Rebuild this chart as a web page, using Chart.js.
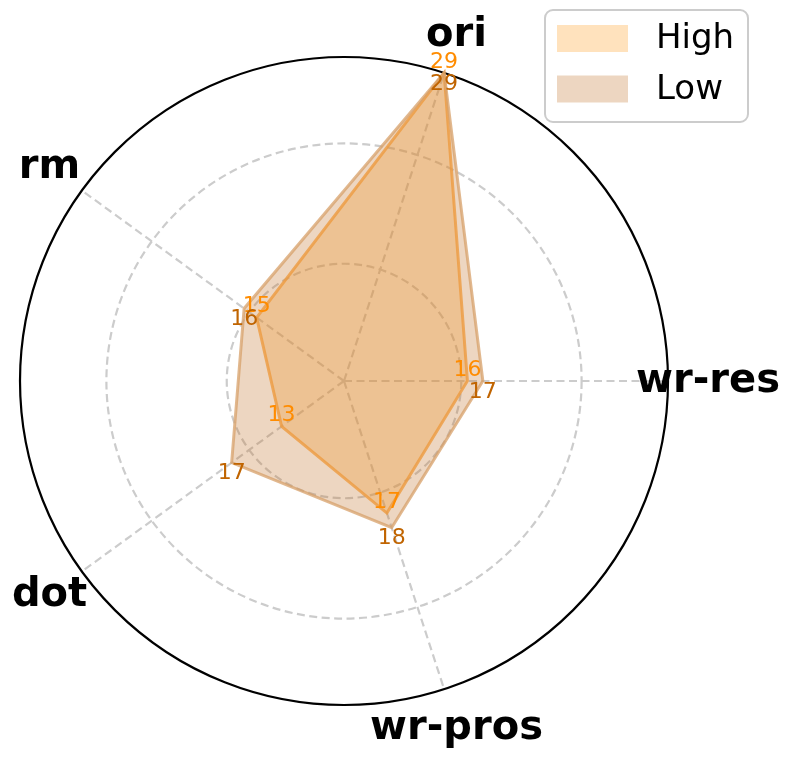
<!DOCTYPE html>
<html><head><meta charset="utf-8">
<script src="https://cdn.jsdelivr.net/npm/chart.js@4/dist/chart.umd.min.js"></script>
<style>html,body{margin:0;padding:0;background:#fff;}</style>
</head><body>
<canvas id="c" width="792" height="760" style="display:block;width:792px;height:760px"></canvas>
<script>
const categories = ['ori', 'wr-res', 'wr-pros', 'dot', 'rm'];
const seriesNames = ['High', 'Low'];
const highValues = [29, 16, 17, 13, 15];
const lowValues = [29, 17, 18, 17, 16];
const gridValues = [8, 15.6, 23.4, 29];
const scaleMin = 8;
const scaleMax = 29;

const fills = ['rgba(255,165,50,0.32)', 'rgba(195,120,50,0.30)'];
const edges = ['rgba(255,170,70,0.8)', 'rgba(215,160,105,0.75)'];
const textColors = ['#ff8c00', '#c06400'];

const overlay = {
  id: 'overlay',
  afterDatasetsDraw(chart) {
    const ctx = chart.ctx;
    const r = chart.scales.r;
    ctx.save();
    ctx.font = 'bold 40px "DejaVu Sans"';
    ctx.fillStyle = '#000';
    ctx.textAlign = 'center';
    ctx.textBaseline = 'middle';
    categories.forEach((c, i) => {
      const p = r.getPointPosition(i, r.drawingArea + 40);
      ctx.fillText(c, p.x, p.y + 1);
    });
    ctx.font = '22px "DejaVu Sans"';
    chart.data.datasets.forEach((ds, di) => {
      ctx.fillStyle = textColors[di];
      ds.data.forEach((v, i) => {
        const p = r.getPointPosition(i, r.getDistanceFromCenterForValue(v));
        ctx.fillText(String(v), p.x, p.y + (di === 0 ? -11 : 11));
      });
    });
    const bx = 545, by = 10, bw = 203, bh = 112, rad = 8;
    ctx.beginPath();
    ctx.moveTo(bx + rad, by);
    ctx.arcTo(bx + bw, by, bx + bw, by + bh, rad);
    ctx.arcTo(bx + bw, by + bh, bx, by + bh, rad);
    ctx.arcTo(bx, by + bh, bx, by, rad);
    ctx.arcTo(bx, by, bx + bw, by, rad);
    ctx.closePath();
    ctx.fillStyle = 'rgba(255,255,255,0.85)';
    ctx.fill();
    ctx.strokeStyle = '#cccccc';
    ctx.lineWidth = 2;
    ctx.stroke();
    ctx.font = '34px "DejaVu Sans"';
    ctx.textAlign = 'left';
    seriesNames.forEach((n, i) => {
      const cy = 38.5 + i * 50.5;
      ctx.fillStyle = '#fff';
      ctx.fillRect(557, cy - 13.5, 71, 27);
      ctx.fillStyle = fills[i];
      ctx.fillRect(557, cy - 13.5, 71, 27);
      ctx.fillStyle = '#000';
      ctx.fillText(n, 656, cy + 1);
    });
    ctx.restore();
  }
};

new Chart(document.getElementById('c'), {
  type: 'radar',
  data: {
    labels: categories,
    datasets: [
      { label: seriesNames[0], data: highValues, backgroundColor: fills[0], borderColor: edges[0], borderWidth: 3, pointRadius: 0, fill: true, order: 1 },
      { label: seriesNames[1], data: lowValues, backgroundColor: fills[1], borderColor: edges[1], borderWidth: 3, pointRadius: 0, fill: true, order: 0 }
    ]
  },
  options: {
    responsive: false,
    animation: false,
    devicePixelRatio: 1,
    layout: { padding: { left: 20, right: 124, top: 57, bottom: 55 } },
    plugins: { legend: { display: false }, tooltip: { enabled: false } },
    elements: { line: { tension: 0 } },
    scales: {
      r: {
        min: scaleMin,
        max: scaleMax,
        startAngle: 18,
        ticks: { display: false },
        pointLabels: { display: false },
        angleLines: { display: true, color: '#cccccc', lineWidth: 2.2, borderDash: [8, 4.5] },
        grid: {
          circular: true,
          color: (c) => c.index === gridValues.length - 1 ? '#000000' : '#cccccc',
          lineWidth: 2.2
        },
        border: { dash: (c) => c.index === gridValues.length - 1 ? [] : [8, 4.5] },
        afterBuildTicks: (scale) => { scale.ticks = gridValues.map(v => ({ value: v })); }
      }
    }
  },
  plugins: [overlay]
});
</script>
</body></html>
